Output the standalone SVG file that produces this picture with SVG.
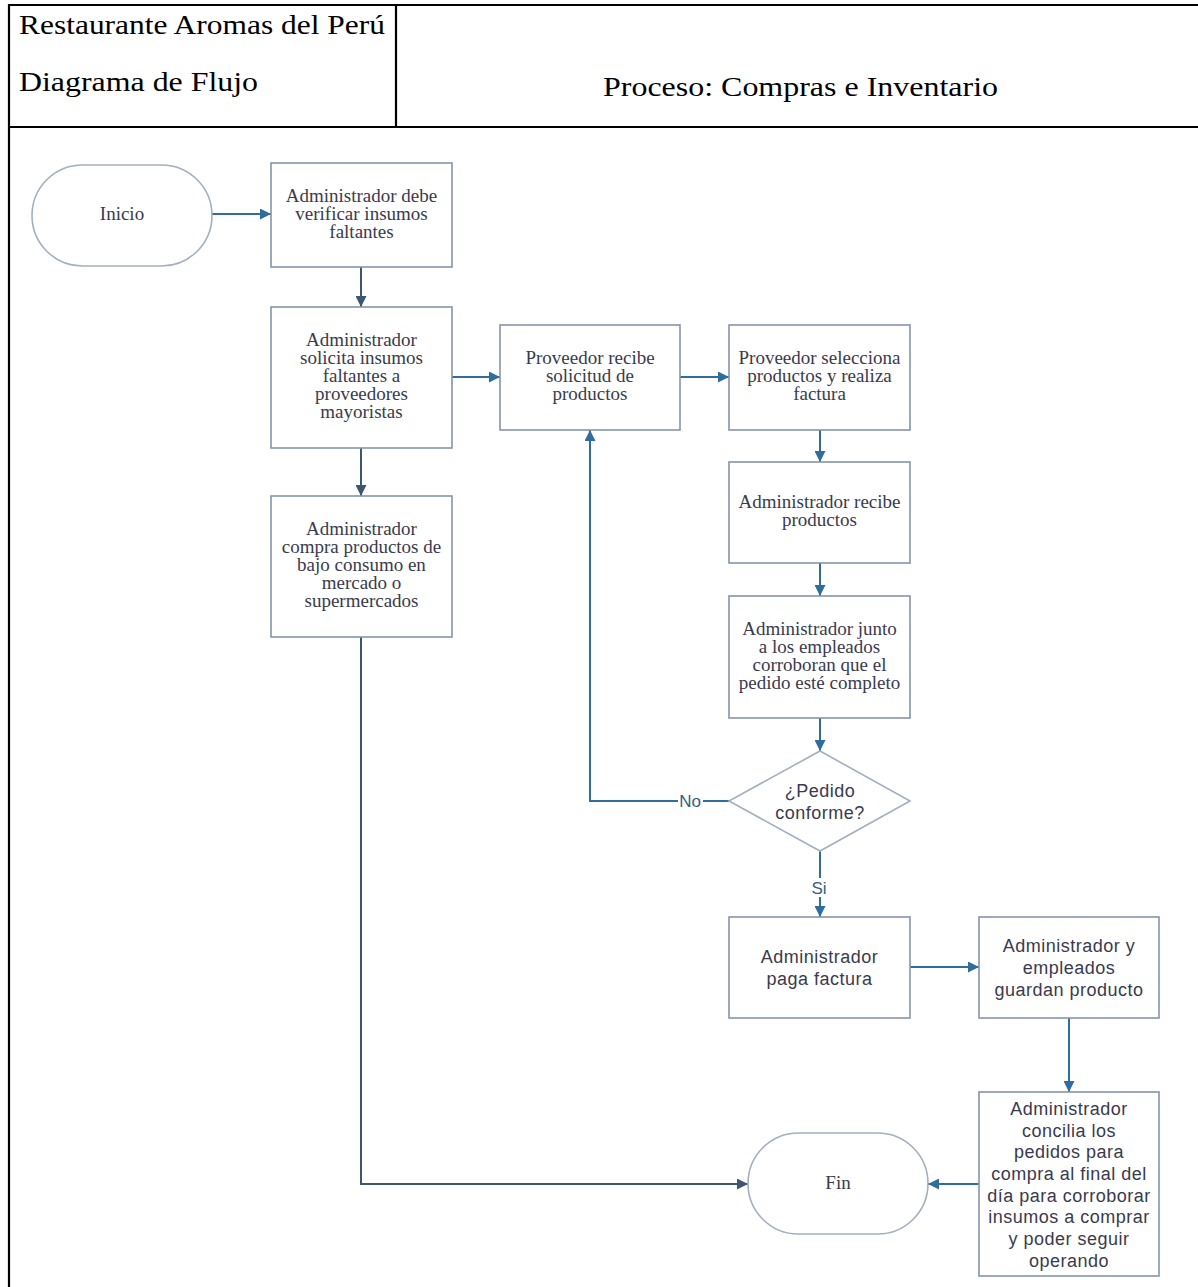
<svg xmlns="http://www.w3.org/2000/svg" width="1198" height="1287" viewBox="0 0 1198 1287">
<defs>
<style>
.frame{stroke:#000;stroke-width:2.2;fill:none}
.hdr{font-family:"Liberation Serif",serif;font-size:28px;fill:#000}
.node{fill:#fff;stroke:#8595aa;stroke-width:1.6}
.term{fill:#fff;stroke:#a3afbf;stroke-width:1.6}
.st{font-family:"Liberation Serif",serif;font-size:19px;fill:#3a3a4e;text-anchor:middle}
.ss{font-family:"Liberation Sans",Arial,sans-serif;font-size:18px;letter-spacing:0.5px;fill:#3a3a4e;text-anchor:middle}
.cb{fill:none;stroke:#2f6e9c;stroke-width:2}
.cd{fill:none;stroke:#3e5770;stroke-width:2}
.lbl{font-family:"Liberation Sans",Arial,sans-serif;font-size:17px;fill:#2f5f88;text-anchor:middle}
</style>
<marker id="ab" viewBox="0 0 10 10" refX="10" refY="5" markerWidth="11" markerHeight="11" markerUnits="userSpaceOnUse" orient="auto"><path d="M0,0 L10,5 L0,10 z" fill="#2f6e9c"/></marker>
<marker id="ad" viewBox="0 0 10 10" refX="10" refY="5" markerWidth="11" markerHeight="11" markerUnits="userSpaceOnUse" orient="auto"><path d="M0,0 L10,5 L0,10 z" fill="#3e5770"/></marker>
</defs>
<rect width="1198" height="1287" fill="#fff"/>
<g id="header">
<line class="frame" x1="8" y1="5" x2="1198" y2="5"/>
<line class="frame" x1="9" y1="4" x2="9" y2="1287"/>
<line class="frame" x1="396" y1="5" x2="396" y2="127"/>
<line class="frame" x1="8" y1="127" x2="1198" y2="127"/>
<text class="hdr" x="19" y="34" textLength="366" lengthAdjust="spacingAndGlyphs">Restaurante Aromas del Perú</text>
<text class="hdr" x="19" y="91" textLength="239" lengthAdjust="spacingAndGlyphs">Diagrama de Flujo</text>
<text class="hdr" x="603" y="96" textLength="395" lengthAdjust="spacingAndGlyphs">Proceso: Compras e Inventario</text>
</g>
<g id="connectors">
<line class="cb" x1="212" y1="214" x2="271" y2="214" marker-end="url(#ab)"/>
<line class="cd" x1="361" y1="267" x2="361" y2="307" marker-end="url(#ad)"/>
<line class="cb" x1="452" y1="377" x2="500" y2="377" marker-end="url(#ab)"/>
<line class="cd" x1="361" y1="448" x2="361" y2="496" marker-end="url(#ad)"/>
<line class="cb" x1="680" y1="377" x2="729" y2="377" marker-end="url(#ab)"/>
<line class="cb" x1="820" y1="430" x2="820" y2="462" marker-end="url(#ab)"/>
<line class="cb" x1="820" y1="563" x2="820" y2="596" marker-end="url(#ab)"/>
<line class="cb" x1="820" y1="718" x2="820" y2="751" marker-end="url(#ab)"/>
<polyline class="cb" points="729,801 590,801 590,430" marker-end="url(#ab)"/>
<line class="cb" x1="820" y1="851" x2="820" y2="917" marker-end="url(#ab)"/>
<line class="cb" x1="910" y1="967" x2="979" y2="967" marker-end="url(#ab)"/>
<line class="cb" x1="1069" y1="1018" x2="1069" y2="1092" marker-end="url(#ab)"/>
<line class="cb" x1="979" y1="1184" x2="928" y2="1184" marker-end="url(#ab)"/>
<polyline class="cd" points="361,637 361,1184 748,1184" marker-end="url(#ad)"/>
<rect x="678" y="792" width="25" height="18" fill="#fff"/>
<text class="lbl" x="690" y="807">No</text>
<rect x="809" y="878" width="21" height="19" fill="#fff"/>
<text class="lbl" x="819" y="894">Si</text>
</g>
<g id="inicio">
<rect class="term" x="32" y="165" width="180" height="101" rx="50.5" ry="50.5"/>
<text class="st" x="122" y="220">Inicio</text>
</g>
<g id="verificar">
<rect class="node" x="271" y="163" width="181" height="104"/>
<text class="st" x="361.5" y="202">Administrador debe</text>
<text class="st" x="361.5" y="220">verificar insumos</text>
<text class="st" x="361.5" y="238">faltantes</text>
</g>
<g id="solicita">
<rect class="node" x="271" y="307" width="181" height="141"/>
<text class="st" x="361.5" y="346">Administrador</text>
<text class="st" x="361.5" y="364">solicita insumos</text>
<text class="st" x="361.5" y="382">faltantes a</text>
<text class="st" x="361.5" y="400">proveedores</text>
<text class="st" x="361.5" y="418">mayoristas</text>
</g>
<g id="compra">
<rect class="node" x="271" y="496" width="181" height="141"/>
<text class="st" x="361.5" y="535">Administrador</text>
<text class="st" x="361.5" y="553">compra productos de</text>
<text class="st" x="361.5" y="571">bajo consumo en</text>
<text class="st" x="361.5" y="589">mercado o</text>
<text class="st" x="361.5" y="607">supermercados</text>
</g>
<g id="recibe-solicitud">
<rect class="node" x="500" y="325" width="180" height="105"/>
<text class="st" x="590" y="364">Proveedor recibe</text>
<text class="st" x="590" y="382">solicitud de</text>
<text class="st" x="590" y="400">productos</text>
</g>
<g id="selecciona">
<rect class="node" x="729" y="325" width="181" height="105"/>
<text class="st" x="819.5" y="364">Proveedor selecciona</text>
<text class="st" x="819.5" y="382">productos y realiza</text>
<text class="st" x="819.5" y="400">factura</text>
</g>
<g id="recibe-productos">
<rect class="node" x="729" y="462" width="181" height="101"/>
<text class="st" x="819.5" y="508">Administrador recibe</text>
<text class="st" x="819.5" y="526">productos</text>
</g>
<g id="corroboran">
<rect class="node" x="729" y="596" width="181" height="122"/>
<text class="st" x="819.5" y="635">Administrador junto</text>
<text class="st" x="819.5" y="653">a los empleados</text>
<text class="st" x="819.5" y="671">corroboran que el</text>
<text class="st" x="819.5" y="689">pedido esté completo</text>
</g>
<g id="decision">
<polygon class="term" points="820,751 910,801 820,851 729,801"/>
<text class="ss" x="820" y="797">¿Pedido</text>
<text class="ss" x="820" y="819">conforme?</text>
</g>
<g id="paga">
<rect class="node" x="729" y="917" width="181" height="101"/>
<text class="ss" x="819.5" y="963">Administrador</text>
<text class="ss" x="819.5" y="985">paga factura</text>
</g>
<g id="guardan">
<rect class="node" x="979" y="917" width="180" height="101"/>
<text class="ss" x="1069" y="952">Administrador y</text>
<text class="ss" x="1069" y="974">empleados</text>
<text class="ss" x="1069" y="996">guardan producto</text>
</g>
<g id="concilia">
<rect class="node" x="979" y="1092" width="180" height="184"/>
<text class="ss" x="1069" y="1115">Administrador</text>
<text class="ss" x="1069" y="1137">concilia los</text>
<text class="ss" x="1069" y="1158">pedidos para</text>
<text class="ss" x="1069" y="1180">compra al final del</text>
<text class="ss" x="1069" y="1202">día para corroborar</text>
<text class="ss" x="1069" y="1223">insumos a comprar</text>
<text class="ss" x="1069" y="1245">y poder seguir</text>
<text class="ss" x="1069" y="1267">operando</text>
</g>
<g id="fin">
<rect class="term" x="748" y="1133" width="180" height="101" rx="50.5" ry="50.5"/>
<text class="st" x="838" y="1189">Fin</text>
</g>
</svg>
